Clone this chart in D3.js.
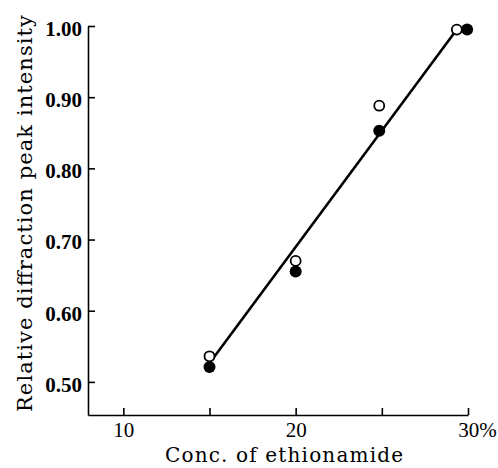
<!DOCTYPE html>
<html>
<head>
<meta charset="utf-8">
<script src="https://cdn.jsdelivr.net/npm/d3@7"></script>
<style>
  body { margin: 0; background: #fff; }
  svg { display: block; }
  text { font-family: "Liberation Serif", "DejaVu Serif", serif; fill: #000; }
</style>
</head>
<body>
<svg id="chart"></svg>
<script>
// Open circles
const openConc = [15, 20, 24.85, 29.35];
const openVals = [0.536, 0.670, 0.888, 0.995];
// Filled circles
const filledConc = [15, 20, 24.85, 29.95];
const filledVals = [0.521, 0.655, 0.853, 0.995];
// Fitted line end points
const lineConc = [15.15, 29.35];
const lineVals = [0.531, 0.995];

const xTicks = [10, 15, 20, 25, 30];
const xTickLabels = { 10: "10", 20: "20", 30: "30%" };
const yTicks = [0.5, 0.6, 0.7, 0.8, 0.9, 1.0];

const width = 498, height = 468;

const svg = d3.select("#chart")
    .attr("width", width)
    .attr("height", height);

// Scales
const x = d3.scaleLinear().domain([7.95, 30]).range([88, 468]);
const y = d3.scaleLinear().domain([0.4535, 1.0]).range([415, 26]);

// X axis (ticks pointing up)
const xAxis = svg.append("g")
    .attr("transform", "translate(0,415)")
    .call(d3.axisBottom(x)
        .tickValues(xTicks)
        .tickSize(-7)
        .tickSizeOuter(0)
        .tickPadding(7)
        .tickFormat(d => xTickLabels[d] || ""));

xAxis.selectAll("text")
    .style("font-size", "21px")
    .attr("x", d => d === 30 ? 9 : 0);

// Y axis (ticks pointing right)
const yAxis = svg.append("g")
    .attr("transform", "translate(88,0)")
    .call(d3.axisLeft(y)
        .tickValues(yTicks)
        .tickSize(-7)
        .tickSizeOuter(0)
        .tickPadding(6)
        .tickFormat(d3.format(".2f")));

yAxis.selectAll("text")
    .style("font-size", "21px")
    .style("font-weight", "bold")
    .attr("dy", "0.45em");

svg.selectAll(".domain, .tick line")
    .attr("stroke", "#000")
    .attr("stroke-width", 1.6);

// Fitted line
svg.append("path")
    .datum(lineConc.map((c, i) => [c, lineVals[i]]))
    .attr("fill", "none")
    .attr("stroke", "#000")
    .attr("stroke-width", 2.6)
    .attr("d", d3.line().x(d => x(d[0])).y(d => y(d[1])));

// Filled points
svg.selectAll(".filled")
    .data(filledConc.map((c, i) => [c, filledVals[i]]))
    .enter()
    .append("circle")
    .attr("class", "filled")
    .attr("cx", d => x(d[0]))
    .attr("cy", d => y(d[1]))
    .attr("r", 6)
    .attr("fill", "#000");

// Open points
svg.selectAll(".open")
    .data(openConc.map((c, i) => [c, openVals[i]]))
    .enter()
    .append("circle")
    .attr("class", "open")
    .attr("cx", d => x(d[0]))
    .attr("cy", d => y(d[1]))
    .attr("r", 5)
    .attr("fill", "#fff")
    .attr("stroke", "#000")
    .attr("stroke-width", 1.8);

// Axis titles
svg.append("text")
    .attr("x", 165)
    .attr("y", 462)
    .attr("textLength", 238)
    .attr("lengthAdjust", "spacing")
    .style("font-family", "'DejaVu Serif', serif")
    .style("font-size", "20px")
    .text("Conc. of ethionamide");

svg.append("text")
    .attr("transform", "translate(32,412) rotate(-90)")
    .attr("textLength", 397)
    .attr("lengthAdjust", "spacing")
    .style("font-family", "'DejaVu Serif', serif")
    .style("font-size", "21px")
    .text("Relative diffraction peak intensity");
</script>
</body>
</html>
